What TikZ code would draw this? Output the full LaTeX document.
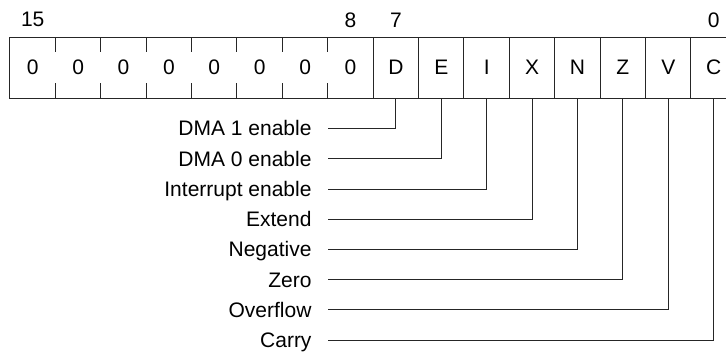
\documentclass[tikz,border=0pt]{standalone}
\usepackage{fontspec}
\setmainfont{Liberation Sans}
\begin{document}
\begin{tikzpicture}[x=1pt,y=1pt,
  bitcell/.style={minimum width=45.4pt,minimum height=60.5pt,inner sep=0pt,
    font=\fontsize{21}{21}\selectfont},
  bitnum/.style={inner sep=0pt,font=\fontsize{21}{21}\selectfont},
  flaglabel/.style={anchor=east,inner sep=0pt,text height=15pt,text depth=0pt,
    font=\fontsize{21}{21}\selectfont},
  frame/.style={line width=0.9pt,draw=black!85},
  leader/.style={line width=0.9pt,draw=black!85}]
\useasboundingbox (0,0) rectangle (726,-352);
% register cells, named by bit number
\foreach \b/\t in {15/0,14/0,13/0,12/0,11/0,10/0,9/0,8/0,7/D,6/E,5/I,4/X,3/N,2/Z,1/V,0/C}
  \node[bitcell] (c\b) at ({32.7+45.4*(15-\b)},-67.75) {\t};
% outer frame
\draw[frame] (c15.north west) rectangle (c0.south east);
% full dividers for the flag byte
\foreach \b in {7,...,0}
  \draw[frame] (c\b.north west) -- (c\b.south west);
% short tick dividers for the reserved byte
\foreach \b in {14,...,8} {
  \draw[frame] (c\b.north west) -- ++(0,-15);
  \draw[frame] (c\b.south west) -- ++(0,15);
}
% bit numbers
\foreach \b in {15,8,7,0}
  \node[bitnum] (n\b) at ([yshift=17.5pt]c\b.north) {\b};
% flag names and leader lines
\foreach \b/\t/\y in {7/DMA 1 enable/128.5,6/DMA 0 enable/158.8,5/Interrupt enable/189,
    4/Extend/219.2,3/Negative/249.4,2/Zero/279.6,1/Overflow/309.8,0/Carry/340} {
  \node[flaglabel] (l\b) at (311.7,-\y) {\t};
  \draw[leader] (c\b.south) |- ([xshift=16pt]l\b.east);
}
\end{tikzpicture}
\end{document}
